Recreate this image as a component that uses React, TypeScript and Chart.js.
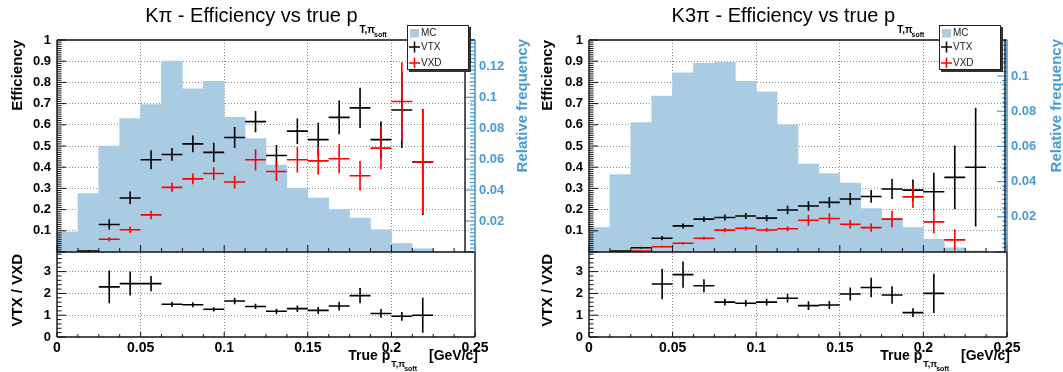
import React, { useEffect, useRef } from "react";
import { Chart, registerables } from "chart.js";

Chart.register(...registerables);

const FONT = "'Liberation Sans', Arial, Helvetica, sans-serif";
const BLUE = "#4a9bd0";
const MC_COLOR = "#a9cce3";
const GRID = "#8c8c8c";

// ---------------- data ----------------
const binCenters = [
  0.00625, 0.01875, 0.03125, 0.04375, 0.05625, 0.06875, 0.08125, 0.09375, 0.10625, 0.11875,
  0.13125, 0.14375, 0.15625, 0.16875, 0.18125, 0.19375, 0.20625, 0.21875, 0.23125, 0.24375,
];
const binHalfWidth = 0.00625;

const xTickValues = [0, 0.05, 0.1, 0.15, 0.2, 0.25];
const xTickLabels = ["0", "0.05", "0.1", "0.15", "0.2", "0.25"];
const effTickValues = [0.1, 0.2, 0.3, 0.4, 0.5, 0.6, 0.7, 0.8, 0.9, 1];
const effTickLabels = ["0.1", "0.2", "0.3", "0.4", "0.5", "0.6", "0.7", "0.8", "0.9", "1"];
const ratioTickValues = [0, 1, 2, 3];
const ratioTickLabels = ["0", "1", "2", "3"];
const ratioMax = 3.9;

// K pi
const kpiMC = [0.013, 0.0377, 0.0685, 0.0863, 0.0952, 0.1233, 0.1055, 0.1103, 0.087, 0.0733, 0.0562, 0.0411, 0.0349, 0.0274, 0.0219, 0.0144, 0.0055, 0.0021, 0, 0];
const kpiVTX = [null, 0.005, 0.13, 0.255, 0.435, 0.46, 0.51, 0.47, 0.54, 0.615, 0.455, 0.57, 0.53, 0.635, 0.68, 0.53, 0.67, 0.425, null, null];
const kpiVTXErr = [null, 0.005, 0.025, 0.03, 0.045, 0.03, 0.04, 0.045, 0.05, 0.05, 0.05, 0.06, 0.08, 0.08, 0.095, 0.085, 0.18, 0.25, null, null];
const kpiVXD = [null, null, 0.06, 0.105, 0.175, 0.305, 0.345, 0.37, 0.33, 0.435, 0.38, 0.435, 0.43, 0.44, 0.36, 0.49, 0.71, 0.425, null, null];
const kpiVXDErr = [null, null, 0.01, 0.015, 0.02, 0.022, 0.025, 0.03, 0.03, 0.05, 0.045, 0.06, 0.065, 0.07, 0.07, 0.1, 0.185, 0.245, null, null];
const kpiRatio = [null, null, 2.3, 2.45, 2.45, 1.5, 1.48, 1.27, 1.65, 1.4, 1.18, 1.3, 1.22, 1.42, 1.9, 1.08, 0.95, 1.0, null, null];
const kpiRatioErr = [null, null, 0.75, 0.55, 0.35, 0.12, 0.12, 0.1, 0.15, 0.12, 0.12, 0.15, 0.17, 0.2, 0.35, 0.2, 0.2, 0.8, null, null];
const kpiRFMax = 0.137;
const kpiRFTickValues = [0.02, 0.04, 0.06, 0.08, 0.1, 0.12];
const kpiRFTickLabels = ["0.02", "0.04", "0.06", "0.08", "0.1", "0.12"];

// K 3pi
const k3piMC = [0.0139, 0.044, 0.0735, 0.0886, 0.1018, 0.1072, 0.1078, 0.097, 0.091, 0.0723, 0.05, 0.0446, 0.0392, 0.0247, 0.0193, 0.0139, 0.0072, 0.0024, 0.0006, 0];
const k3piVTX = [null, 0.005, 0.02, 0.065, 0.123, 0.155, 0.163, 0.17, 0.16, 0.198, 0.217, 0.234, 0.25, 0.262, 0.297, 0.292, 0.284, 0.352, 0.4, null];
const k3piVTXErr = [null, 0.003, 0.005, 0.01, 0.012, 0.013, 0.014, 0.014, 0.015, 0.02, 0.022, 0.025, 0.028, 0.03, 0.047, 0.05, 0.09, 0.15, 0.28, null];
const k3piVXD = [null, null, 0.005, 0.025, 0.041, 0.065, 0.103, 0.112, 0.104, 0.11, 0.15, 0.158, 0.131, 0.115, 0.155, 0.26, 0.142, 0.057, null, null];
const k3piVXDErr = [null, null, 0.003, 0.005, 0.006, 0.007, 0.01, 0.01, 0.01, 0.012, 0.025, 0.025, 0.02, 0.02, 0.04, 0.053, 0.055, 0.05, null, null];
const k3piRatio = [null, null, null, 2.43, 2.86, 2.35, 1.6, 1.55, 1.6, 1.78, 1.44, 1.47, 1.97, 2.27, 1.93, 1.12, 2.0, null, null, null];
const k3piRatioErr = [null, null, null, 0.7, 0.6, 0.3, 0.15, 0.15, 0.15, 0.2, 0.2, 0.18, 0.3, 0.45, 0.4, 0.2, 0.9, null, null, null];
const k3piRFMax = 0.1205;
const k3piRFTickValues = [0.02, 0.04, 0.06, 0.08, 0.1];
const k3piRFTickLabels = ["0.02", "0.04", "0.06", "0.08", "0.1"];

const legendLabels = ["MC", "VTX", "VXD"];

// ---------------- helpers ----------------
function crossPoints(centers: number[], vals: (number | null)[], errs: (number | null)[], hw: number) {
  const pts: any[] = [];
  vals.forEach((v, i) => {
    if (v == null) return;
    const c = centers[i];
    const e = errs[i] ?? 0;
    pts.push({ x: c - hw, y: v }, { x: c + hw, y: v }, { x: c, y: null });
    pts.push({ x: c, y: v - e }, { x: c, y: v + e }, { x: c, y: null });
  });
  return pts;
}

function line(ctx: CanvasRenderingContext2D, x1: number, y1: number, x2: number, y2: number, color: string, w: number) {
  ctx.save();
  ctx.strokeStyle = color;
  ctx.lineWidth = w;
  ctx.beginPath();
  ctx.moveTo(x1, y1);
  ctx.lineTo(x2, y2);
  ctx.stroke();
  ctx.restore();
}

function vText(ctx: CanvasRenderingContext2D, text: string, x: number, yEnd: number, font: string, color: string) {
  ctx.save();
  ctx.translate(x, yEnd);
  ctx.rotate(-Math.PI / 2);
  ctx.textAlign = "right";
  ctx.textBaseline = "middle";
  ctx.font = font;
  ctx.fillStyle = color;
  ctx.fillText(text, 0, 0);
  ctx.restore();
}

function makeDecor(cfg: any) {
  return {
    id: "rootDecor" + cfg.key,
    afterDraw(chart: any) {
      const ctx: CanvasRenderingContext2D = chart.ctx;
      const xs = chart.scales.x;
      const ys = chart.scales.y;
      const yr = chart.scales.yr;
      const yrf = chart.scales.yrf;
      const L = xs.left, R = xs.right;
      const T = ys.top, M = ys.bottom, B = yr.bottom;
      const frameW = 1.4;
      const fc = "#111";

      // inward ticks
      for (let k = 0; k <= 20; k++) {
        const v = k * 0.0125;
        const px = xs.getPixelForValue(v);
        const major = k % 4 === 0;
        line(ctx, px, M, px, M - (major ? 7 : 4), fc, 1);
        line(ctx, px, B, px, B - (major ? 5 : 3), fc, 1);
      }
      for (let k = 0; k <= 100; k++) {
        const py = ys.getPixelForValue(k * 0.01);
        const major = k % 10 === 0;
        line(ctx, L, py, L + (major ? 9 : 4.5), py, fc, 1);
      }
      for (let k = 0; k <= 19; k++) {
        const v = k * 0.2;
        if (v > ratioMax) break;
        const py = yr.getPixelForValue(v);
        const major = k % 5 === 0;
        line(ctx, L, py, L + (major ? 9 : 4.5), py, fc, 1);
      }
      // blue axis ticks
      for (let k = 0; k * 0.0025 <= cfg.rfMax + 1e-9; k++) {
        const py = yrf.getPixelForValue(k * 0.0025);
        const major = k % 8 === 0;
        line(ctx, R, py, R - (major ? 10 : 5), py, BLUE, 1.2);
      }

      // frames
      line(ctx, L, T, L, B, fc, frameW);
      line(ctx, L, T, R, T, fc, frameW);
      line(ctx, L, M, R, M, fc, frameW);
      line(ctx, L, B, R, B, fc, frameW);
      line(ctx, R, M, R, B, fc, frameW);
      line(ctx, R - cfg.innerLineInset, T, R - cfg.innerLineInset, M, fc, frameW);
      line(ctx, R, T, R, M, BLUE, 1.6);

      // title
      const cx = (L + R) / 2;
      const fMain = `20px ${FONT}`;
      const fS1 = `bold 10px ${FONT}`;
      const fS2 = `bold 7px ${FONT}`;
      ctx.save();
      ctx.fillStyle = "#000";
      ctx.textAlign = "left";
      ctx.textBaseline = "alphabetic";
      ctx.font = fMain;
      const wm = ctx.measureText(cfg.title).width;
      ctx.font = fS1;
      const w1 = ctx.measureText("T,π").width;
      ctx.font = fS2;
      const w2 = ctx.measureText("soft").width;
      let tx = cx - (wm + 2 + w1 + w2 - 1) / 2;
      ctx.font = fMain;
      ctx.fillText(cfg.title, tx, 22);
      tx += wm + 2;
      ctx.font = fS1;
      ctx.fillText("T,π", tx, 33);
      tx += w1 - 1;
      ctx.font = fS2;
      ctx.fillText("soft", tx, 37);

      // x title
      const fx = `bold 14px ${FONT}`;
      const fx1 = `bold 9px ${FONT}`;
      const fx2 = `bold 7px ${FONT}`;
      ctx.font = fx;
      const wa = ctx.measureText("True p").width;
      const wb = ctx.measureText("[GeV/c]").width;
      ctx.font = fx1;
      const wx1 = ctx.measureText("T,π").width;
      ctx.font = fx2;
      const wx2 = ctx.measureText("soft").width;
      const gap = 11;
      let xx = R + 3 - (wa + 1 + wx1 + wx2 + gap + wb);
      ctx.font = fx;
      ctx.fillText("True p", xx, 360);
      xx += wa + 1;
      ctx.font = fx1;
      ctx.fillText("T,π", xx, 367);
      xx += wx1 - 1;
      ctx.font = fx2;
      ctx.fillText("soft", xx, 371);
      xx += wx2 + gap + 1;
      ctx.font = fx;
      ctx.fillText("[GeV/c]", xx, 360);
      ctx.restore();

      // axis titles
      vText(ctx, "Efficiency", 18, T, `bold 15px ${FONT}`, "#000");
      vText(ctx, "VTX / VXD", 18, M + 2, `bold 15px ${FONT}`, "#000");
      vText(ctx, "Relative frequency", R + cfg.rfTitleOffset, T - 1, `bold 15px ${FONT}`, BLUE);

      // legend
      const lw = 62, lh = 45;
      const lx = R - 6 - lw, ly = 25;
      ctx.save();
      ctx.fillStyle = "#333";
      ctx.fillRect(lx + 2, ly + 2, lw, lh);
      ctx.fillStyle = "#fff";
      ctx.fillRect(lx, ly, lw, lh);
      ctx.strokeStyle = "#222";
      ctx.lineWidth = 1;
      ctx.strokeRect(lx + 0.5, ly + 0.5, lw - 1, lh - 1);
      ctx.fillStyle = MC_COLOR;
      ctx.fillRect(lx + 3, ly + 4, 9, 8.5);
      line(ctx, lx + 2, ly + 22, lx + 13, ly + 22, "#000", 1.5);
      line(ctx, lx + 7.5, ly + 16.5, lx + 7.5, ly + 27.5, "#000", 1.5);
      line(ctx, lx + 2, ly + 38, lx + 13, ly + 38, "#ff0000", 1.5);
      line(ctx, lx + 7.5, ly + 32.5, lx + 7.5, ly + 43, "#ff0000", 1.5);
      ctx.fillStyle = "#222";
      ctx.font = `10px ${FONT}`;
      ctx.textBaseline = "middle";
      ctx.textAlign = "left";
      ctx.fillText(legendLabels[0], lx + 14, ly + 8.5);
      ctx.fillText(legendLabels[1], lx + 14, ly + 22.5);
      ctx.fillText(legendLabels[2], lx + 14, ly + 38.5);
      ctx.restore();
    },
  };
}

function Panel({ cfg, left }: { cfg: any; left: number }) {
  const ref = useRef<HTMLCanvasElement | null>(null);
  useEffect(() => {
    const canvas = ref.current;
    if (!canvas) return;
    const tickFont = { family: FONT, size: 13, weight: "bold" as const };
    const innerX = (v: number) => v > 0.001 && v < 0.249;
    const chart = new Chart(canvas, {
      type: "bar",
      data: {
        datasets: [
          {
            type: "line",
            label: "VXD",
            data: crossPoints(binCenters, cfg.vxd, cfg.vxdErr, binHalfWidth),
            xAxisID: "x",
            yAxisID: "y",
            borderColor: "#ff0000",
            borderWidth: 1.6,
            pointRadius: 0,
            spanGaps: false,
            fill: false,
            tension: 0,
            order: 1,
          } as any,
          {
            type: "line",
            label: "VTX",
            data: crossPoints(binCenters, cfg.vtx, cfg.vtxErr, binHalfWidth),
            xAxisID: "x",
            yAxisID: "y",
            borderColor: "#000000",
            borderWidth: 1.6,
            pointRadius: 0,
            spanGaps: false,
            fill: false,
            tension: 0,
            order: 2,
          } as any,
          {
            type: "line",
            label: "VTX / VXD",
            data: crossPoints(binCenters, cfg.ratio, cfg.ratioErr, binHalfWidth),
            xAxisID: "x",
            yAxisID: "yr",
            borderColor: "#000000",
            borderWidth: 1.6,
            pointRadius: 0,
            spanGaps: false,
            fill: false,
            tension: 0,
            order: 3,
          } as any,
          {
            type: "bar",
            label: "MC",
            data: binCenters.map((c, i) => ({ x: c, y: cfg.mc[i] })),
            xAxisID: "x",
            yAxisID: "yrf",
            backgroundColor: MC_COLOR,
            borderWidth: 0,
            barPercentage: 1,
            categoryPercentage: 1,
            order: 10,
          } as any,
        ],
      },
      options: {
        animation: false,
        responsive: false,
        maintainAspectRatio: false,
        events: [],
        layout: { padding: { top: 40, left: 0, right: 0, bottom: 0 } },
        plugins: { legend: { display: false }, tooltip: { enabled: false }, title: { display: false } },
        scales: {
          x: {
            type: "linear",
            position: "bottom",
            min: 0,
            max: 0.25,
            offset: false,
            z: 1,
            afterBuildTicks: (s: any) => {
              s.ticks = xTickValues.map((v) => ({ value: v }));
            },
            afterFit: (s: any) => {
              s.height = 35;
            },
            ticks: {
              callback: (_v: any, i: number) => xTickLabels[i],
              font: { family: FONT, size: 14, weight: "bold" },
              color: "#000",
              maxRotation: 0,
              autoSkip: false,
              padding: 3,
            },
            grid: {
              color: (c: any) => (c.tick && innerX(c.tick.value) ? GRID : "rgba(0,0,0,0)"),
              drawTicks: false,
              offset: false,
              lineWidth: 1,
            },
            border: { display: false, dash: [1, 2] },
          },
          y: {
            type: "linear",
            position: "left",
            stack: "left",
            stackWeight: 212,
            weight: 1,
            min: 0,
            max: 1,
            offset: false,
            z: 1,
            afterBuildTicks: (s: any) => {
              s.ticks = effTickValues.map((v) => ({ value: v }));
            },
            afterFit: (s: any) => {
              s.width = cfg.leftW;
            },
            ticks: {
              callback: (_v: any, i: number) => effTickLabels[i],
              font: tickFont,
              color: "#000",
              autoSkip: false,
              padding: 6,
            },
            grid: {
              color: (c: any) => (c.tick && c.tick.value < 0.999 ? GRID : "rgba(0,0,0,0)"),
              drawTicks: false,
              lineWidth: 1,
            },
            border: { display: false, dash: [1, 2] },
          },
          yr: {
            type: "linear",
            position: "left",
            stack: "left",
            stackWeight: 85,
            weight: 0,
            min: 0,
            max: ratioMax,
            offset: false,
            z: 1,
            afterBuildTicks: (s: any) => {
              s.ticks = ratioTickValues.map((v) => ({ value: v }));
            },
            afterFit: (s: any) => {
              s.width = cfg.leftW;
            },
            ticks: {
              callback: (_v: any, i: number) => ratioTickLabels[i],
              font: tickFont,
              color: "#000",
              autoSkip: false,
              padding: 6,
            },
            grid: {
              color: (c: any) => (c.tick && c.tick.value > 0.001 ? GRID : "rgba(0,0,0,0)"),
              drawTicks: false,
              lineWidth: 1,
            },
            border: { display: false, dash: [1, 2] },
          },
          yrf: {
            type: "linear",
            position: "right",
            stack: "right",
            stackWeight: 212,
            weight: 0,
            min: 0,
            max: cfg.rfMax,
            offset: false,
            afterBuildTicks: (s: any) => {
              s.ticks = cfg.rfTicks.map((v: number) => ({ value: v }));
            },
            afterFit: (s: any) => {
              s.width = cfg.rightW;
            },
            ticks: {
              callback: (_v: any, i: number) => cfg.rfLabels[i],
              font: tickFont,
              color: BLUE,
              autoSkip: false,
              padding: 4,
            },
            grid: { display: false, drawTicks: false },
            border: { display: false },
          },
          yrfPad: {
            type: "linear",
            position: "right",
            stack: "right",
            stackWeight: 85,
            weight: 1,
            min: 0,
            max: 1,
            afterFit: (s: any) => {
              s.width = cfg.rightW;
            },
            ticks: { display: false },
            grid: { display: false, drawTicks: false },
            border: { display: false },
          },
        },
      } as any,
      plugins: [makeDecor(cfg)],
    });
    return () => chart.destroy();
  }, [cfg]);
  return (
    <div style={{ position: "absolute", left, top: 0, width: cfg.canvasW, height: 372 }}>
      <canvas ref={ref} width={cfg.canvasW} height={372} style={{ width: cfg.canvasW, height: 372, display: "block" }} />
    </div>
  );
}

const kpiCfg = {
  key: "kpi",
  title: "Kπ - Efficiency vs true p",
  mc: kpiMC,
  vtx: kpiVTX,
  vtxErr: kpiVTXErr,
  vxd: kpiVXD,
  vxdErr: kpiVXDErr,
  ratio: kpiRatio,
  ratioErr: kpiRatioErr,
  rfMax: kpiRFMax,
  rfTicks: kpiRFTickValues,
  rfLabels: kpiRFTickLabels,
  leftW: 57,
  rightW: 59,
  canvasW: 534,
  innerLineInset: 10,
  rfTitleOffset: 48,
};

const k3piCfg = {
  key: "k3pi",
  title: "K3π - Efficiency vs true p",
  mc: k3piMC,
  vtx: k3piVTX,
  vtxErr: k3piVTXErr,
  vxd: k3piVXD,
  vxdErr: k3piVXDErr,
  ratio: k3piRatio,
  ratioErr: k3piRatioErr,
  rfMax: k3piRFMax,
  rfTicks: k3piRFTickValues,
  rfLabels: k3piRFTickLabels,
  leftW: 59,
  rightW: 56,
  canvasW: 533,
  innerLineInset: 2,
  rfTitleOffset: 50,
};

export default function App() {
  return (
    <div style={{ position: "absolute", left: 0, top: 0, width: 1063, height: 372, background: "#fff", overflow: "hidden" }}>
      <Panel cfg={kpiCfg} left={0} />
      <Panel cfg={k3piCfg} left={530} />
    </div>
  );
}
